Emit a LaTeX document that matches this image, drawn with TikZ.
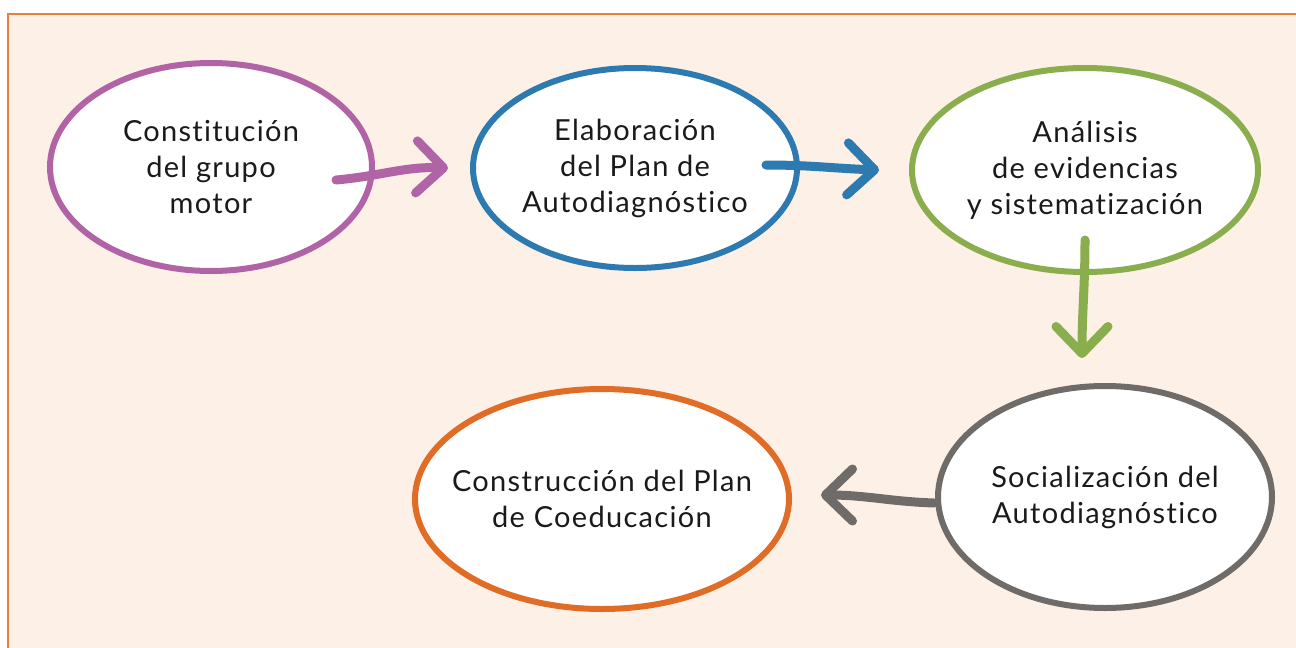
\documentclass[tikz,border=0pt]{standalone}
\usepackage{fontspec}
\setmainfont{Lato}[Ligatures=NoCommon, LetterSpace=4.5]
\usetikzlibrary{shapes.geometric,arrows.meta}

\definecolor{bgpeach}{HTML}{FDF0E6}
\definecolor{framecol}{HTML}{E8803A}
\definecolor{cpurple}{HTML}{B063A5}
\definecolor{cblue}{HTML}{2D7AB0}
\definecolor{cgreen}{HTML}{8AAD4E}
\definecolor{cgray}{HTML}{6F6B68}
\definecolor{corange}{HTML}{E06C25}
\definecolor{txtcol}{HTML}{1A1A1A}

\tikzset{
  stage/.style={ellipse, draw=#1, line width=6pt, fill=white, align=center,
    inner xsep=-40pt, inner ysep=0pt, text=txtcol, font=\fontsize{29}{36}\selectfont},
  flow/.style={draw=#1, line width=9pt, line cap=round,
    -{Straight Barb[length=27pt,width=52pt,round]}}
}

\begin{document}
\begin{tikzpicture}[x=1pt,y=-1pt]
  \useasboundingbox (0,0) rectangle (1296,648);
  \fill[bgpeach] (8,14) rectangle (1296,648);
  \draw[framecol, line width=1.5pt] (1296,14) -- (8,14) -- (8,648);

  % stages
  \node[stage=cpurple, minimum width=322pt, minimum height=208pt] (grupo) at (211,167)
    {Constitución\\del grupo\\motor};
  \node[stage=cblue, minimum width=324pt, minimum height=200pt] (planauto) at (635,168)
    {Elaboración\\del Plan de\\Autodiagnóstico};
  \node[stage=cgreen, minimum width=346pt, minimum height=204pt] (analisis) at (1085,170)
    {Análisis\\de evidencias\\y sistematización};
  \node[stage=cgray, minimum width=334pt, minimum height=222pt] (social) at (1105,497)
    {Socialización del\\Autodiagnóstico};
  \node[stage=corange, minimum width=374pt, minimum height=220pt] (coedu) at (602,499)
    {Construcción del Plan\\de Coeducación};

  % arrows
  \draw[flow=cpurple] ([xshift=-39pt,yshift=-13pt]grupo.east) to[out=5,in=178] ([xshift=-22pt]planauto.west);
  \draw[flow=cblue] ([xshift=-34pt,yshift=3pt]planauto.east) to[out=0,in=178] ([xshift=-30pt]analisis.west);
  \draw[flow=cgreen] ([yshift=-70pt]analisis.center) to[out=-90,in=90] ([xshift=-23pt,yshift=25pt]social.north);
  \draw[flow=cgray] ([xshift=-1pt,yshift=-6pt]social.west) to[out=178,in=0] ([xshift=29pt,yshift=4pt]coedu.east);
\end{tikzpicture}
\end{document}
